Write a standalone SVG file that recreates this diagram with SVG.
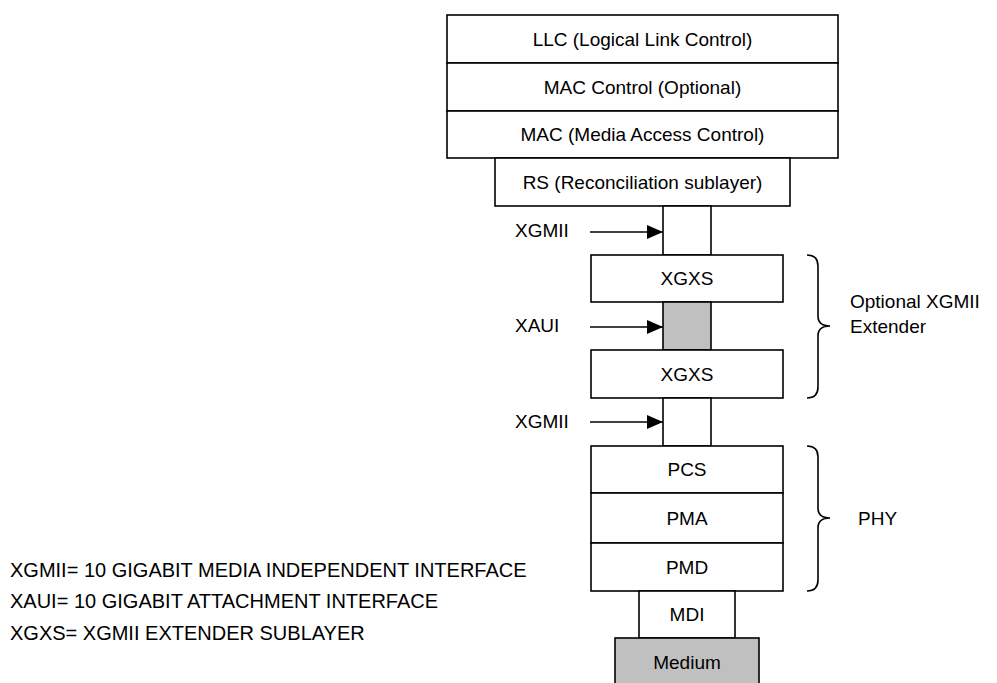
<svg xmlns="http://www.w3.org/2000/svg" width="997" height="683" viewBox="0 0 997 683">
<style>
.b{fill:#fff;stroke:#000;stroke-width:1.6}
.g{fill:#c0c0c0;stroke:#000;stroke-width:1.6}
text{font-family:"Liberation Sans",Arial,sans-serif;font-size:19px;fill:#000}
.c{text-anchor:middle}
.f{font-size:20px}
.ln{stroke:#000;stroke-width:1.6;fill:none}
</style>
<defs>
<marker id="ah" viewBox="0 0 16 14" refX="16" refY="7" markerWidth="16" markerHeight="14" orient="auto" markerUnits="userSpaceOnUse">
<path d="M0,0 L16,7 L0,14 z" fill="#000"/>
</marker>
</defs>
<g id="llc"><rect class="b" x="447" y="15" width="391" height="48"/><text class="c" x="642.5" y="46">LLC (Logical Link Control)</text></g>
<g id="macctl"><rect class="b" x="447" y="63" width="391" height="48"/><text class="c" x="642.5" y="94">MAC Control (Optional)</text></g>
<g id="mac"><rect class="b" x="447" y="111" width="391" height="47"/><text class="c" x="642.5" y="141">MAC (Media Access Control)</text></g>
<g id="rs"><rect class="b" x="495" y="158" width="295" height="48"/><text class="c" x="642.5" y="189">RS (Reconciliation sublayer)</text></g>
<g id="xgmii1"><rect class="b" x="663" y="206" width="48" height="49"/></g>
<g id="xgxs1"><rect class="b" x="591" y="255" width="192" height="47"/><text class="c" x="687" y="285">XGXS</text></g>
<g id="xaui"><rect class="g" x="663" y="302" width="48" height="48"/></g>
<g id="xgxs2"><rect class="b" x="591" y="350" width="192" height="48"/><text class="c" x="687" y="381">XGXS</text></g>
<g id="xgmii2"><rect class="b" x="663" y="398" width="48" height="48"/></g>
<g id="pcs"><rect class="b" x="591" y="446" width="192" height="47"/><text class="c" x="687" y="476">PCS</text></g>
<g id="pma"><rect class="b" x="591" y="493" width="192" height="50"/><text class="c" x="687" y="525">PMA</text></g>
<g id="pmd"><rect class="b" x="591" y="543" width="192" height="48"/><text class="c" x="687" y="574">PMD</text></g>
<g id="mdi"><rect class="b" x="639" y="591" width="96" height="47"/><text class="c" x="687" y="621">MDI</text></g>
<g id="medium"><rect class="g" x="615" y="638" width="144" height="50"/><text class="c" x="687" y="669">Medium</text></g>
<g id="labels">
<text x="515" y="237">XGMII</text>
<text x="515" y="332">XAUI</text>
<text x="515" y="428">XGMII</text>
<text x="850" y="308">Optional XGMII</text>
<text x="850" y="333">Extender</text>
<text x="858" y="525">PHY</text>
<text class="f" x="10" y="577">XGMII= 10 GIGABIT MEDIA INDEPENDENT INTERFACE</text>
<text class="f" x="10" y="608">XAUI= 10 GIGABIT ATTACHMENT INTERFACE</text>
<text class="f" x="10" y="640">XGXS= XGMII EXTENDER SUBLAYER</text>
</g>
<g id="connectors">
<line class="ln" x1="590" y1="232" x2="663" y2="232" marker-end="url(#ah)"/>
<line class="ln" x1="590" y1="327" x2="663" y2="327" marker-end="url(#ah)"/>
<line class="ln" x1="590" y1="422" x2="663" y2="422" marker-end="url(#ah)"/>
<path class="ln" d="M807,255 Q818,255 818,266 L818,316 Q818,326 830,326 Q818,326 818,336 L818,387 Q818,398 807,398"/>
<path class="ln" d="M807,446 Q818,446 818,457 L818,508 Q818,518 830,518 Q818,518 818,528 L818,580 Q818,591 807,591"/>
</g>
</svg>
